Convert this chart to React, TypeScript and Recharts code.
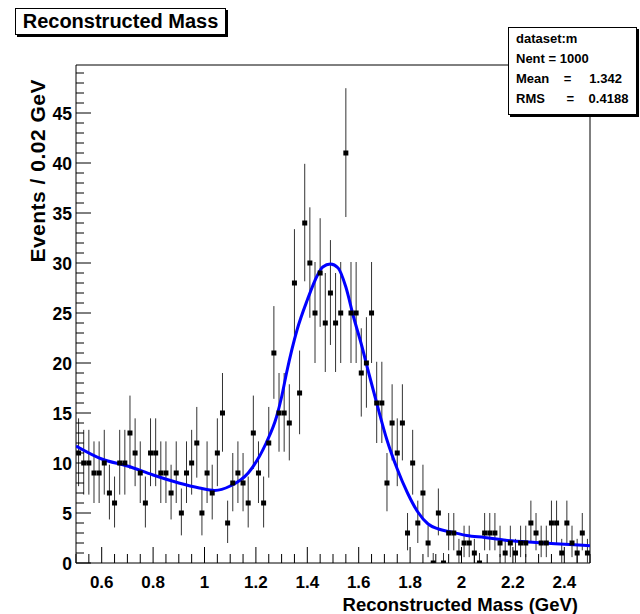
import { ComposedChart, Scatter, Line, XAxis, YAxis, ErrorBar, ReferenceArea, Label } from "recharts";

// histogram binning of the mass spectrum
const xMin = 0.5;
const xMax = 2.5;
const binWidth = 0.02;
const yMax = 49.8;

// events per 0.02 GeV bin (they add up to Nent = 1000)
const counts = [
  11, 10, 10, 9, 9, 10, 7, 6, 10, 10,
  13, 11, 9, 6, 11, 11, 9, 9, 7, 9,
  5, 9, 10, 12, 5, 9, 7, 11, 15, 4,
  8, 9, 8, 6, 13, 9, 6, 12, 21, 15,
  15, 14, 28, 17, 34, 30, 25, 29, 24, 27,
  24, 25, 41, 25, 25, 19, 20, 25, 16, 16,
  8, 14, 11, 14, 3, 10, 4, 7, 2, 0,
  5, 0, 3, 3, 1, 2, 2, 1, 0, 3,
  3, 3, 2, 1, 2, 1, 2, 2, 4, 3,
  2, 2, 4, 4, 1, 4, 2, 1, 3, 1,
];

// fitted pdf (blue)
const fitX = [
  0.5, 0.6, 0.7, 0.8, 0.9, 0.98, 1.04, 1.1, 1.17, 1.24, 1.28, 1.3, 1.32, 1.36,
  1.4, 1.44, 1.46, 1.49, 1.52, 1.55, 1.58, 1.61, 1.64, 1.67, 1.71, 1.75, 1.79,
  1.83, 1.87, 1.91, 1.96, 2.02, 2.09, 2.18, 2.29, 2.42, 2.5,
];
const fitY = [
  11.7, 10.4, 9.7, 8.8, 8.0, 7.5, 7.25, 7.7, 9.0, 12.0, 14.6, 16.6, 19.1, 23.3,
  26.3, 28.8, 29.6, 29.9, 29.5, 27.6, 24.6, 21.9, 18.9, 16.0, 12.3, 9.4, 7.0,
  5.1, 3.9, 3.4, 3.1, 2.75, 2.55, 2.25, 2.05, 1.85, 1.72,
];

const xMajorTicks = [0.6, 0.8, 1, 1.2, 1.4, 1.6, 1.8, 2, 2.2, 2.4];
const xTickLabels = ["0.6", "0.8", "1", "1.2", "1.4", "1.6", "1.8", "2", "2.2", "2.4"];
const yMajorTicks = [0, 5, 10, 15, 20, 25, 30, 35, 40, 45];
const yTickLabels = ["0", "5", "10", "15", "20", "25", "30", "35", "40", "45"];

const statsLines = ["dataset:m", "Nent = 1000", "Mean    =     1.342", "RMS      =    0.4188"];

const W = 640;
const H = 614;
const LEFT = 76;
const TOP = 65;
const RIGHT = 50;
const BOTTOM = 51;
const FONT = "'Liberation Sans', Arial, Helvetica, sans-serif";

// poisson-ish asymmetric error: [down, up]
const points = counts.map((n, i) => ({
  x: xMin + binWidth * (i + 0.5),
  y: n,
  err: [Math.sqrt(n), Math.sqrt(n + 1)],
}));
const fit = fitX.map((x, i) => ({ x, y: fitY[i] }));

// minor ticks every 0.05 on x, every 1 on y
const xTicks = Array.from({ length: 41 }, (_, i) => +(xMin + i * 0.05).toFixed(2));
const yTicks = Array.from({ length: 50 }, (_, i) => i);

const plotBottom = H - BOTTOM;

function XTick(props: any) {
  const { x, payload } = props;
  const k = xMajorTicks.findIndex((t) => Math.abs(t - payload.value) < 1e-6);
  const len = k >= 0 ? 16 : 9;
  return (
    <g>
      <line x1={x} x2={x} y1={plotBottom} y2={plotBottom - len} stroke="#000" />
      {k >= 0 && (
        <text x={x} y={plotBottom + 25} textAnchor="middle" fontFamily={FONT} fontWeight="bold" fontSize={17} fill="#000">
          {xTickLabels[k]}
        </text>
      )}
    </g>
  );
}

function YTick(props: any) {
  const { y, payload } = props;
  const k = yMajorTicks.indexOf(payload.value);
  const len = k >= 0 ? 15 : 8;
  return (
    <g>
      <line x1={LEFT} x2={LEFT + len} y1={y} y2={y} stroke="#000" />
      {k >= 0 && (
        <text x={LEFT - 4} y={y + 6.5} textAnchor="end" fontFamily={FONT} fontWeight="bold" fontSize={17.5} fill="#000">
          {yTickLabels[k]}
        </text>
      )}
    </g>
  );
}

function Marker(props: any) {
  const { cx, cy } = props;
  return <rect x={cx - 2.5} y={cy - 2.5} width={5} height={5} fill="#000" />;
}

export default function App() {
  return (
    <div style={{ position: "absolute", left: 0, top: 0, width: W, height: H, background: "#fff" }}>
      <ComposedChart width={W} height={H} margin={{ top: TOP, right: RIGHT, bottom: 0, left: 0 }}>
        <XAxis
          type="number"
          dataKey="x"
          domain={[xMin, xMax]}
          ticks={xTicks}
          interval={0}
          height={BOTTOM}
          allowDataOverflow
          axisLine={false}
          tickLine={false}
          tickSize={0}
          tick={(p: any) => <XTick {...p} />}
        >
          <Label
            content={() => (
              <text x={578} y={611} textAnchor="end" fontFamily={FONT} fontWeight="bold" fontSize={18.5} fill="#000">
                Reconstructed Mass (GeV)
              </text>
            )}
          />
        </XAxis>
        <YAxis
          type="number"
          domain={[0, yMax]}
          ticks={yTicks}
          interval={0}
          width={LEFT}
          allowDataOverflow
          axisLine={false}
          tickLine={false}
          tickSize={0}
          tick={(p: any) => <YTick {...p} />}
        >
          <Label
            content={() => (
              <text
                x={0}
                y={0}
                transform="translate(45, 79) rotate(-90)"
                textAnchor="end"
                fontFamily={FONT}
                fontWeight="bold"
                fontSize={21}
                letterSpacing={0.5}
                fill="#000"
              >
                Events / 0.02 GeV
              </text>
            )}
          />
        </YAxis>
        <Scatter data={points} dataKey="y" shape={<Marker />} isAnimationActive={false}>
          <ErrorBar dataKey="err" direction="y" width={0} stroke="#333" strokeWidth={1} />
        </Scatter>
        <Line
          data={fit}
          dataKey="y"
          type="monotone"
          stroke="#0000ff"
          strokeWidth={3}
          dot={false}
          isAnimationActive={false}
        />
        <ReferenceArea x1={xMin} x2={xMax} y1={0} y2={yMax} fill="none" stroke="#000" strokeWidth={1} fillOpacity={0} />
      </ComposedChart>

      <div
        style={{
          position: "absolute",
          left: 15,
          top: 8,
          width: 209,
          height: 25,
          border: "1px solid #000",
          boxShadow: "2px 2px 0 #000",
          background: "#fff",
          fontFamily: FONT,
          fontWeight: "bold",
          fontSize: 20,
          lineHeight: "25px",
          textAlign: "center",
          whiteSpace: "nowrap",
        }}
      >
        Reconstructed Mass
      </div>

      <div
        style={{
          position: "absolute",
          left: 508,
          top: 27,
          width: 129,
          height: 88,
          border: "1px solid #000",
          boxShadow: "2px 2px 0 #000",
          background: "#fff",
          fontFamily: FONT,
          fontWeight: "bold",
          fontSize: 13,
          lineHeight: "20px",
          paddingTop: 1,
          boxSizing: "border-box",
        }}
      >
        {statsLines.map((s) => (
          <div key={s} style={{ paddingLeft: 7, whiteSpace: "pre" }}>
            {s}
          </div>
        ))}
      </div>
    </div>
  );
}
